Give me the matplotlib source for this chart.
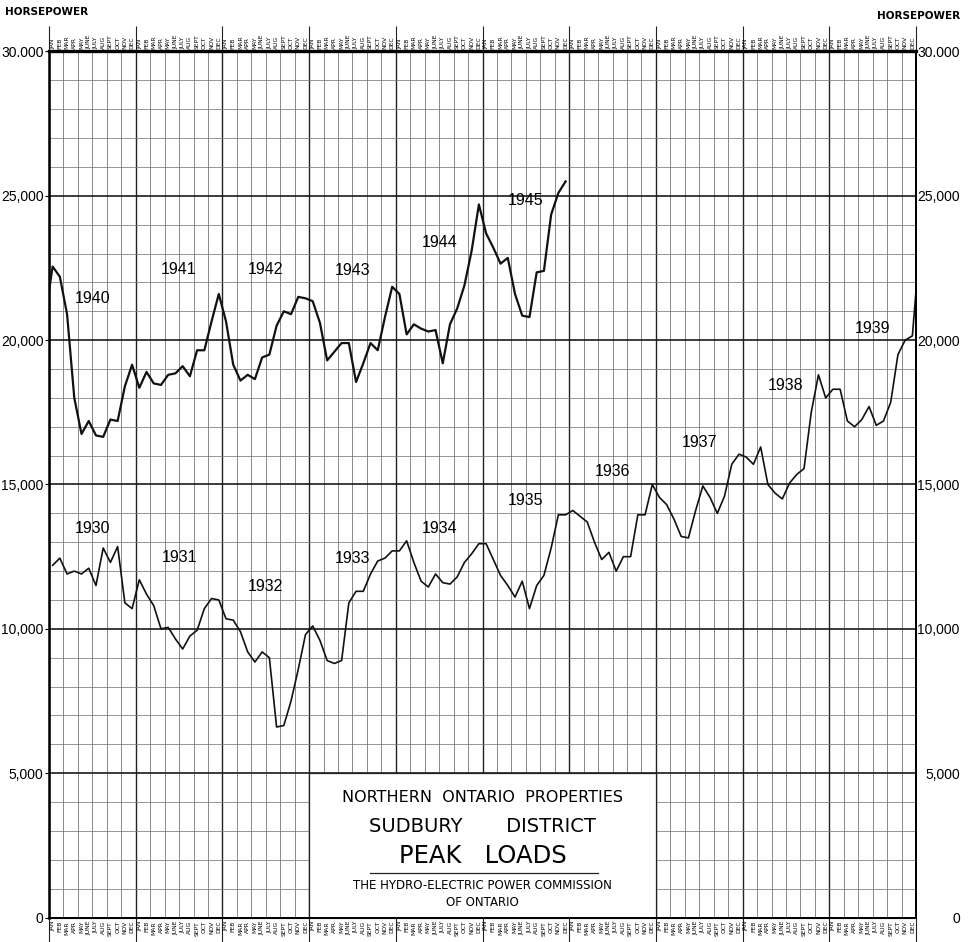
import numpy as np
import matplotlib
matplotlib.use("Agg")
import matplotlib.pyplot as plt
from matplotlib.patches import Rectangle

plt.rcParams['font.family'] = ['Liberation Sans Narrow', 'Liberation Sans', 'DejaVu Sans']

# monthly peak loads, horsepower
load_1930 = [12200, 12450, 11900, 12000, 11900, 12100, 11500, 12800, 12300, 12850, 10900, 10700]
load_1931 = [11700, 11200, 10800, 10000, 10050, 9650, 9300, 9750, 9950, 10700, 11050, 11000]
load_1932 = [10350, 10300, 9900, 9200, 8850, 9200, 9000, 6600, 6650, 7500, 8600, 9800]
load_1933 = [10100, 9600, 8900, 8800, 8900, 10900, 11300, 11300, 11900, 12350, 12450, 12700]
load_1934 = [12700, 13050, 12300, 11650, 11450, 11900, 11600, 11550, 11800, 12300, 12600, 12950]
load_1935 = [12950, 12400, 11850, 11500, 11100, 11650, 10700, 11500, 11850, 12800, 13950, 13950]
load_1936 = [14100, 13900, 13700, 13000, 12400, 12650, 12000, 12500, 12500, 13950, 13950, 15000]
load_1937 = [14550, 14300, 13800, 13200, 13150, 14100, 14950, 14550, 14000, 14600, 15700, 16050]
load_1938 = [15950, 15700, 16300, 15000, 14700, 14500, 15050, 15350, 15550, 17500, 18800, 18000]
load_1939 = [18300, 18300, 17200, 17000, 17250, 17700, 17050, 17200, 17850, 19500, 20000, 20150]

load_1940 = [22550, 22200, 20900, 18000, 16750, 17200, 16700, 16650, 17250, 17200, 18400, 19150]
load_1941 = [18350, 18900, 18500, 18450, 18800, 18850, 19100, 18750, 19650, 19650, 20650, 21600]
load_1942 = [20650, 19150, 18600, 18800, 18650, 19400, 19500, 20500, 21000, 20900, 21500, 21450]
load_1943 = [21350, 20600, 19300, 19600, 19900, 19900, 18550, 19200, 19900, 19650, 20800, 21850]
load_1944 = [21600, 20200, 20550, 20400, 20300, 20350, 19200, 20550, 21100, 21900, 23100, 24700]
load_1945 = [23700, 23200, 22650, 22850, 21600, 20850, 20800, 22350, 22400, 24350, 25100, 25500]

# value where the 1930s line runs off the right edge and the 1940s line comes in on the left
wrap_load = 21700

years_low = [1930, 1931, 1932, 1933, 1934, 1935, 1936, 1937, 1938, 1939]
years_high = [1940, 1941, 1942, 1943, 1944, 1945]
label_y_low = [13480, 12480, 11460, 12440, 13460, 14440, 15440, 16450, 18440, 20410]
label_y_high = [21460, 22450, 22450, 22430, 23390, 24850]

months = ['JAN', 'FEB', 'MAR', 'APR', 'MAY', 'JUNE', 'JULY', 'AUG', 'SEPT', 'OCT', 'NOV', 'DEC']
ytick_vals = [0, 5000, 10000, 15000, 20000, 25000, 30000]
ytick_labels = ['0', '5,000', '10,000', '15,000', '20,000', '25,000', '30.000']

low = np.concatenate([load_1930, load_1931, load_1932, load_1933, load_1934,
                      load_1935, load_1936, load_1937, load_1938, load_1939])
high = np.concatenate([load_1940, load_1941, load_1942, load_1943, load_1944, load_1945])

x_low = np.append(np.arange(len(low)) + 0.5, 120)
y_low = np.append(low, wrap_load)
x_high = np.insert(np.arange(len(high)) + 0.5, 0, 0)
y_high = np.insert(high, 0, wrap_load)

fig = plt.figure(figsize=(9.71, 9.42), dpi=100)
ax = fig.add_axes([49 / 971, 24.5 / 942, 867 / 971, 866 / 942])
ax.set_xlim(0, 120)
ax.set_ylim(0, 30000)

# grid: year lines + every 2 months, 5000 + every 1000
ax.set_xticks(np.arange(0, 121, 12))
ax.set_xticks(np.arange(0, 121, 2), minor=True)
ax.set_yticks(ytick_vals)
ax.set_yticklabels(ytick_labels, fontsize=10)
ax.set_yticks(np.arange(0, 30001, 1000), minor=True)
ax.set_axisbelow(True)
ax.grid(which='major', axis='x', color='#222222', lw=1.0)
ax.grid(which='minor', axis='x', color='#6a6a6a', lw=0.55)
ax.grid(which='major', axis='y', color='#1a1a1a', lw=1.2)
ax.grid(which='minor', axis='y', color='#7a7a7a', lw=0.55)
ax.tick_params(axis='x', which='both', length=0, labelbottom=False)
ax.tick_params(axis='y', which='major', length=3, width=0.8, pad=1)
ax.tick_params(axis='y', which='minor', length=0)

for side, w in [('top', 2.4), ('left', 1.8), ('bottom', 1.4), ('right', 1.4)]:
    ax.spines[side].set_linewidth(w)

ax2 = ax.twinx()
ax2.set_ylim(0, 30000)
ax2.set_yticks(ytick_vals)
ax2.set_yticklabels(ytick_labels, fontsize=10)
ax2.tick_params(axis='y', length=0, pad=31.5)
for lbl in ax2.get_yticklabels():
    lbl.set_horizontalalignment('right')
ax2.spines['right'].set_linewidth(1.4)

ax.plot(x_low, y_low, color='#111111', lw=1.2, zorder=3)
ax.plot(x_high, y_high, color='#111111', lw=1.6, zorder=3)

for i, yr in enumerate(years_low):
    ax.text(i * 12 + 6, label_y_low[i], str(yr), fontsize=11.5, ha='center', va='center', zorder=4)
for i, yr in enumerate(years_high):
    ax.text(i * 12 + 6, label_y_high[i], str(yr), fontsize=11.5, ha='center', va='center', zorder=4)

# month names above and below the grid
xt = ax.get_xaxis_transform()
for m in range(120):
    name = months[m % 12]
    ax.text(m + 0.5, 1.003, name, transform=xt, rotation=90, fontsize=4.3,
            ha='center', va='bottom', family='DejaVu Sans')
    ax.text(m + 0.5, -0.004, name, transform=xt, rotation=90, fontsize=4.3,
            ha='center', va='top', family='DejaVu Sans')
ax.vlines(np.arange(0, 121, 12), 1.0, 1.03, transform=xt, colors='#222222', lw=0.8, clip_on=False)
ax.vlines(np.arange(0, 121, 12), -0.03, 0.0, transform=xt, colors='#222222', lw=0.8, clip_on=False)

fig.text(5 / 971, 1 - 12 / 942, 'HORSEPOWER', fontsize=7.5, fontweight='bold',
         ha='left', va='center', family='DejaVu Sans')
fig.text(960 / 971, 1 - 16 / 942, 'HORSEPOWER', fontsize=7.5, fontweight='bold',
         ha='right', va='center', family='DejaVu Sans')

# title block
ax.add_patch(Rectangle((36, 0), 48, 5000, facecolor='white', edgecolor='#222222', lw=0.9, zorder=2.5))
tf = 'DejaVu Sans'
ax.text(60, 4140, 'NORTHERN  ONTARIO  PROPERTIES', fontsize=11.5, ha='center', va='center', family=tf, zorder=4)
ax.text(60, 3145, 'SUDBURY       DISTRICT', fontsize=14, ha='center', va='center', family=tf, zorder=4)
ax.text(60, 2130, 'PEAK   LOADS', fontsize=17.5, ha='center', va='center', family=tf, zorder=4)
ax.plot([44.4, 76.0], [1531, 1531], color='#222222', lw=0.9, zorder=4)
ax.text(60, 1101, 'THE HYDRO-ELECTRIC POWER COMMISSION', fontsize=8.5, ha='center', va='center', family=tf, zorder=4)
ax.text(60, 513, 'OF ONTARIO', fontsize=8.5, ha='center', va='center', family=tf, zorder=4)

fig.savefig('out.png', dpi=100)
